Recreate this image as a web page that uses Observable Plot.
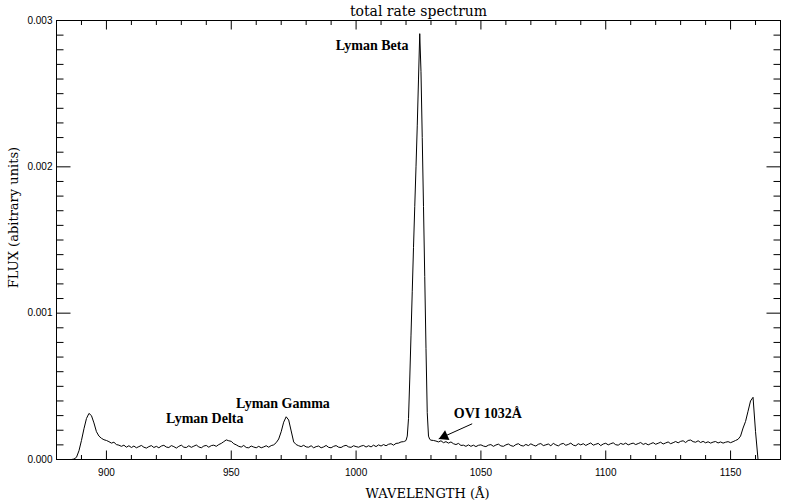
<!DOCTYPE html>
<html>
<head>
<meta charset="utf-8">
<script src="https://cdn.jsdelivr.net/npm/d3@7"></script>
<script src="https://cdn.jsdelivr.net/npm/@observablehq/plot@0.6"></script>
<style>
  html, body { margin: 0; padding: 0; background: #fff; }
</style>
</head>
<body>
<div id="chart"></div>
<script>
// Wavelength samples (Å)
const wavelength = [
  886, 887, 888, 889, 890, 891, 892, 893, 894, 895, 896, 897, 898, 899, 900,
  901, 902, 903, 904, 905, 906, 907, 908, 909, 910, 911, 912, 913, 914, 915, 916, 917, 918, 919, 920,
  921, 922, 923, 924, 925, 926, 927, 928, 929, 930, 931, 932, 933, 934, 935, 936, 937, 938, 939, 940,
  941, 942, 943, 944, 945, 946, 947, 948, 949, 950, 951, 952, 953, 954, 955, 956, 957, 958, 959, 960,
  961, 962, 963, 964, 965, 966, 967, 968, 969, 970, 971, 972, 973, 974, 975, 976, 977, 978, 979, 980,
  981, 982, 983, 984, 985, 986, 987, 988, 989, 990, 991, 992, 993, 994, 995, 996, 997, 998, 999, 1000,
  1001, 1002, 1003, 1004, 1005, 1006, 1007, 1008, 1009, 1010, 1011, 1012, 1013, 1014, 1015, 1016, 1017, 1018, 1019,
  1019.5, 1020, 1020.5, 1021, 1021.5, 1022, 1022.5, 1023, 1023.5, 1024, 1024.5, 1025, 1025.5, 1026, 1026.5, 1027, 1027.5, 1028, 1028.5, 1029, 1029.5, 1030,
  1031, 1032, 1033, 1034, 1035, 1036, 1037, 1038, 1039, 1040, 1041, 1042, 1043, 1044, 1045, 1046, 1047, 1048, 1049, 1050,
  1051, 1052, 1053, 1054, 1055, 1056, 1057, 1058, 1059, 1060, 1061, 1062, 1063, 1064, 1065, 1066, 1067, 1068, 1069, 1070,
  1071, 1072, 1073, 1074, 1075, 1076, 1077, 1078, 1079, 1080, 1081, 1082, 1083, 1084, 1085, 1086, 1087, 1088, 1089, 1090,
  1091, 1092, 1093, 1094, 1095, 1096, 1097, 1098, 1099, 1100, 1101, 1102, 1103, 1104, 1105, 1106, 1107, 1108, 1109, 1110,
  1111, 1112, 1113, 1114, 1115, 1116, 1117, 1118, 1119, 1120, 1121, 1122, 1123, 1124, 1125, 1126, 1127, 1128, 1129, 1130,
  1131, 1132, 1133, 1134, 1135, 1136, 1137, 1138, 1139, 1140, 1141, 1142, 1143, 1144, 1145, 1146, 1147, 1148, 1149, 1150,
  1151, 1152, 1153, 1154, 1155, 1156, 1157, 1158, 1159, 1160, 1161
];
// Flux (arbitrary units)
const flux = [
  0, 0.03e-4, 0.15e-4, 0.6e-4, 1.3e-4, 2.1e-4, 2.8e-4, 3.15e-4, 3.0e-4, 2.5e-4, 1.9e-4, 1.6e-4, 1.45e-4, 1.35e-4, 1.3e-4,
  1.22e-4, 1.12e-4, 1.18e-4, 1.02e-4, 0.98e-4, 0.9e-4, 0.98e-4, 0.84e-4, 0.94e-4, 0.82e-4, 0.92e-4, 0.8e-4, 0.88e-4, 0.96e-4, 0.84e-4, 0.78e-4, 0.88e-4, 0.95e-4, 0.82e-4, 0.9e-4,
  0.8e-4, 0.92e-4, 0.97e-4, 0.85e-4, 0.82e-4, 0.95e-4, 0.88e-4, 0.78e-4, 0.9e-4, 0.98e-4, 0.84e-4, 0.82e-4, 0.94e-4, 0.83e-4, 0.91e-4, 0.99e-4, 0.86e-4, 0.8e-4, 0.92e-4, 0.96e-4,
  0.84e-4, 0.95e-4, 0.98e-4, 0.9e-4, 1.02e-4, 1.1e-4, 1.22e-4, 1.34e-4, 1.28e-4, 1.24e-4, 1.08e-4, 1.0e-4, 0.9e-4, 0.85e-4, 0.96e-4, 0.82e-4, 0.8e-4, 0.92e-4, 0.85e-4, 0.8e-4,
  0.9e-4, 0.8e-4, 0.86e-4, 0.94e-4, 0.84e-4, 0.95e-4, 1.0e-4, 1.15e-4, 1.4e-4, 1.9e-4, 2.55e-4, 2.92e-4, 2.7e-4, 1.95e-4, 1.2e-4, 1.02e-4, 0.94e-4, 0.88e-4, 0.97e-4, 0.86e-4,
  0.84e-4, 0.94e-4, 0.8e-4, 0.88e-4, 0.92e-4, 0.8e-4, 0.86e-4, 0.96e-4, 0.83e-4, 0.8e-4, 0.9e-4, 0.95e-4, 0.84e-4, 0.82e-4, 0.92e-4, 0.97e-4, 0.86e-4, 0.83e-4, 0.94e-4, 0.88e-4,
  0.84e-4, 0.92e-4, 0.96e-4, 0.85e-4, 0.94e-4, 0.86e-4, 0.98e-4, 0.88e-4, 1.0e-4, 0.92e-4, 1.02e-4, 0.94e-4, 1.04e-4, 1.08e-4, 0.98e-4, 1.1e-4, 1.12e-4, 1.2e-4, 1.22e-4,
  1.25e-4, 1.3e-4, 1.6e-4, 2.8e-4, 5.5e-4, 8.5e-4, 11.5e-4, 14.5e-4, 17.3e-4, 20.0e-4, 22.8e-4, 26.0e-4, 29.1e-4, 26.5e-4, 22.0e-4, 17.3e-4, 12.5e-4, 7.6e-4, 3.2e-4, 1.6e-4, 1.38e-4, 1.32e-4,
  1.3e-4, 1.26e-4, 1.2e-4, 1.28e-4, 1.15e-4, 1.22e-4, 1.12e-4, 1.2e-4, 1.08e-4, 1.02e-4, 1.1e-4, 0.96e-4, 0.98e-4, 0.9e-4, 1.0e-4, 0.9e-4, 0.98e-4, 0.88e-4, 0.97e-4, 1.0e-4,
  0.92e-4, 0.88e-4, 0.98e-4, 1.02e-4, 0.9e-4, 0.99e-4, 1.05e-4, 0.93e-4, 0.9e-4, 1.0e-4, 1.06e-4, 0.95e-4, 0.9e-4, 1.02e-4, 1.08e-4, 0.96e-4, 0.92e-4, 1.03e-4, 0.95e-4, 1.07e-4,
  0.98e-4, 0.92e-4, 1.04e-4, 1.09e-4, 0.95e-4, 1.0e-4, 1.06e-4, 0.94e-4, 1.1e-4, 1.0e-4, 0.93e-4, 1.05e-4, 1.1e-4, 0.97e-4, 1.03e-4, 1.12e-4, 0.98e-4, 0.94e-4, 1.08e-4, 1.0e-4,
  1.08e-4, 0.96e-4, 1.05e-4, 1.13e-4, 0.98e-4, 1.04e-4, 1.1e-4, 0.95e-4, 1.06e-4, 1.11e-4, 1.0e-4, 1.08e-4, 1.14e-4, 1.01e-4, 0.98e-4, 1.1e-4, 1.03e-4, 1.12e-4, 1.0e-4, 1.07e-4,
  1.12e-4, 1.02e-4, 1.09e-4, 1.16e-4, 1.03e-4, 1.1e-4, 1.0e-4, 1.08e-4, 1.15e-4, 1.04e-4, 1.11e-4, 1.18e-4, 1.06e-4, 1.13e-4, 1.2e-4, 1.08e-4, 1.15e-4, 1.23e-4, 1.14e-4, 1.24e-4,
  1.28e-4, 1.16e-4, 1.3e-4, 1.33e-4, 1.22e-4, 1.18e-4, 1.28e-4, 1.16e-4, 1.24e-4, 1.14e-4, 1.21e-4, 1.12e-4, 1.19e-4, 1.23e-4, 1.13e-4, 1.2e-4, 1.12e-4, 1.18e-4, 1.22e-4, 1.15e-4,
  1.22e-4, 1.3e-4, 1.38e-4, 1.6e-4, 2.15e-4, 2.6e-4, 3.3e-4, 4.0e-4, 4.25e-4, 1.9e-4, 0
];

// Axis ticks
const xMajorTicks = [900, 950, 1000, 1050, 1100, 1150];
const xMinorTicks = [890, 910, 920, 930, 940, 960, 970, 980, 990, 1010, 1020, 1030, 1040, 1060, 1070, 1080, 1090, 1110, 1120, 1130, 1140, 1160];
const yMajorTicks = [0, 0.001, 0.002, 0.003];
const yMinorTicks = [0.0001, 0.0002, 0.0003, 0.0004, 0.0005, 0.0006, 0.0007, 0.0008, 0.0009,
  0.0011, 0.0012, 0.0013, 0.0014, 0.0015, 0.0016, 0.0017, 0.0018, 0.0019,
  0.0021, 0.0022, 0.0023, 0.0024, 0.0025, 0.0026, 0.0027, 0.0028, 0.0029];

// Texts
const titleText = "total rate spectrum";
const xLabel = "WAVELENGTH (Å)";
const yLabel = "FLUX (abitrary units)";

// Line annotations (label, wavelength, flux at label centre)
const annLabels = ["Lyman Beta", "Lyman Gamma", "Lyman Delta", "OVI 1032Å"];
const annX = [1006.4, 970.7, 939.4, 1052.8];
const annY = [0.00283, 0.000381, 0.000278, 0.000312];
// Arrow for OVI (start -> tip)
const arrowFrom = {w: 1046.5, f: 0.000244};
const arrowTo = {w: 1033.1, f: 0.000141};

const spectrum = wavelength.map((w, i) => ({w, f: flux[i]}));
const annotations = annLabels.map((label, i) => ({label, w: annX[i], f: annY[i]}));

const W = 785, H = 504;
const mT = 20, mB = 45, mL = 56, mR = 5;
const fw = W - mL - mR, fh = H - mT - mB;
const xDom = [880, 1170], yDom = [0, 0.003];
// tick lengths in pixels, converted to data units via the scale extents
const xTickMajor = 9, xTickMinor = 4.5, yTickMajor = 14, yTickMinor = 7;
const dyPer = (yDom[1] - yDom[0]) / fh;
const dxPer = (xDom[1] - xDom[0]) / fw;

const serif = "'DejaVu Serif', serif";
const tickFont = "'Liberation Sans', Arial, sans-serif";

// inward ticks on all four sides
const xTickSegs = [
  ...xMajorTicks.map(x => ({x, a: yDom[0], b: yDom[0] + xTickMajor * dyPer})),
  ...xMinorTicks.map(x => ({x, a: yDom[0], b: yDom[0] + xTickMinor * dyPer})),
  ...xMajorTicks.map(x => ({x, a: yDom[1], b: yDom[1] - xTickMajor * dyPer})),
  ...xMinorTicks.map(x => ({x, a: yDom[1], b: yDom[1] - xTickMinor * dyPer}))
];
const yTickSegs = [
  ...yMajorTicks.map(y => ({y, a: xDom[0], b: xDom[0] + yTickMajor * dxPer})),
  ...yMinorTicks.map(y => ({y, a: xDom[0], b: xDom[0] + yTickMinor * dxPer})),
  ...yMajorTicks.map(y => ({y, a: xDom[1], b: xDom[1] - yTickMajor * dxPer})),
  ...yMinorTicks.map(y => ({y, a: xDom[1], b: xDom[1] - yTickMinor * dxPer}))
];

const chart = Plot.plot({
  width: W, height: H,
  marginTop: mT, marginBottom: mB, marginLeft: mL, marginRight: mR,
  x: {domain: xDom},
  y: {domain: yDom},
  style: {background: "white", color: "black", fontFamily: tickFont, fontSize: "10px"},
  marks: [
    Plot.frame({stroke: "black", strokeWidth: 1}),
    Plot.link(xTickSegs, {x1: "x", x2: "x", y1: "a", y2: "b", stroke: "black", strokeWidth: 1}),
    Plot.link(yTickSegs, {y1: "y", y2: "y", x1: "a", x2: "b", stroke: "black", strokeWidth: 1}),
    Plot.axisX(xMajorTicks, {tickSize: 0, tickPadding: 9, label: null, tickFormat: d => String(d), fontSize: 10}),
    Plot.axisY(yMajorTicks, {tickSize: 0, tickPadding: 4, label: null, tickFormat: d3.format(".3f"), fontSize: 10}),
    // spectrum
    Plot.line(spectrum, {x: "w", y: "f", stroke: "black", strokeWidth: 1}),
    // annotations
    Plot.text(annotations, {x: "w", y: "f", text: "label", fontFamily: "'Liberation Serif', 'Times New Roman', serif", fontWeight: "bold", fontSize: 14, fill: "black"}),
    Plot.link([{a: arrowFrom, b: arrowTo}], {x1: d => d.a.w, y1: d => d.a.f, x2: d => d.b.w, y2: d => d.b.f, stroke: "black", strokeWidth: 1}),
    Plot.dot([arrowTo], {x: "w", y: "f", symbol: "triangle", r: 4, fill: "black", stroke: "none", rotate: 246, dx: 5.7, dy: -2.5}),
    // titles
    Plot.text([titleText], {frameAnchor: "top", lineAnchor: "middle", dy: -9, fontFamily: serif, fontSize: 14, fill: "black"}),
    Plot.text([xLabel], {frameAnchor: "bottom", lineAnchor: "middle", dy: 34, dx: 9, fontFamily: serif, fontSize: 13, fill: "black"}),
    Plot.text([yLabel], {frameAnchor: "left", textAnchor: "middle", lineAnchor: "middle", dx: -43, dy: -22.5, rotate: -90, fontFamily: serif, fontSize: 13, fill: "black"})
  ]
});
document.getElementById("chart").appendChild(chart);
</script>
</body>
</html>
